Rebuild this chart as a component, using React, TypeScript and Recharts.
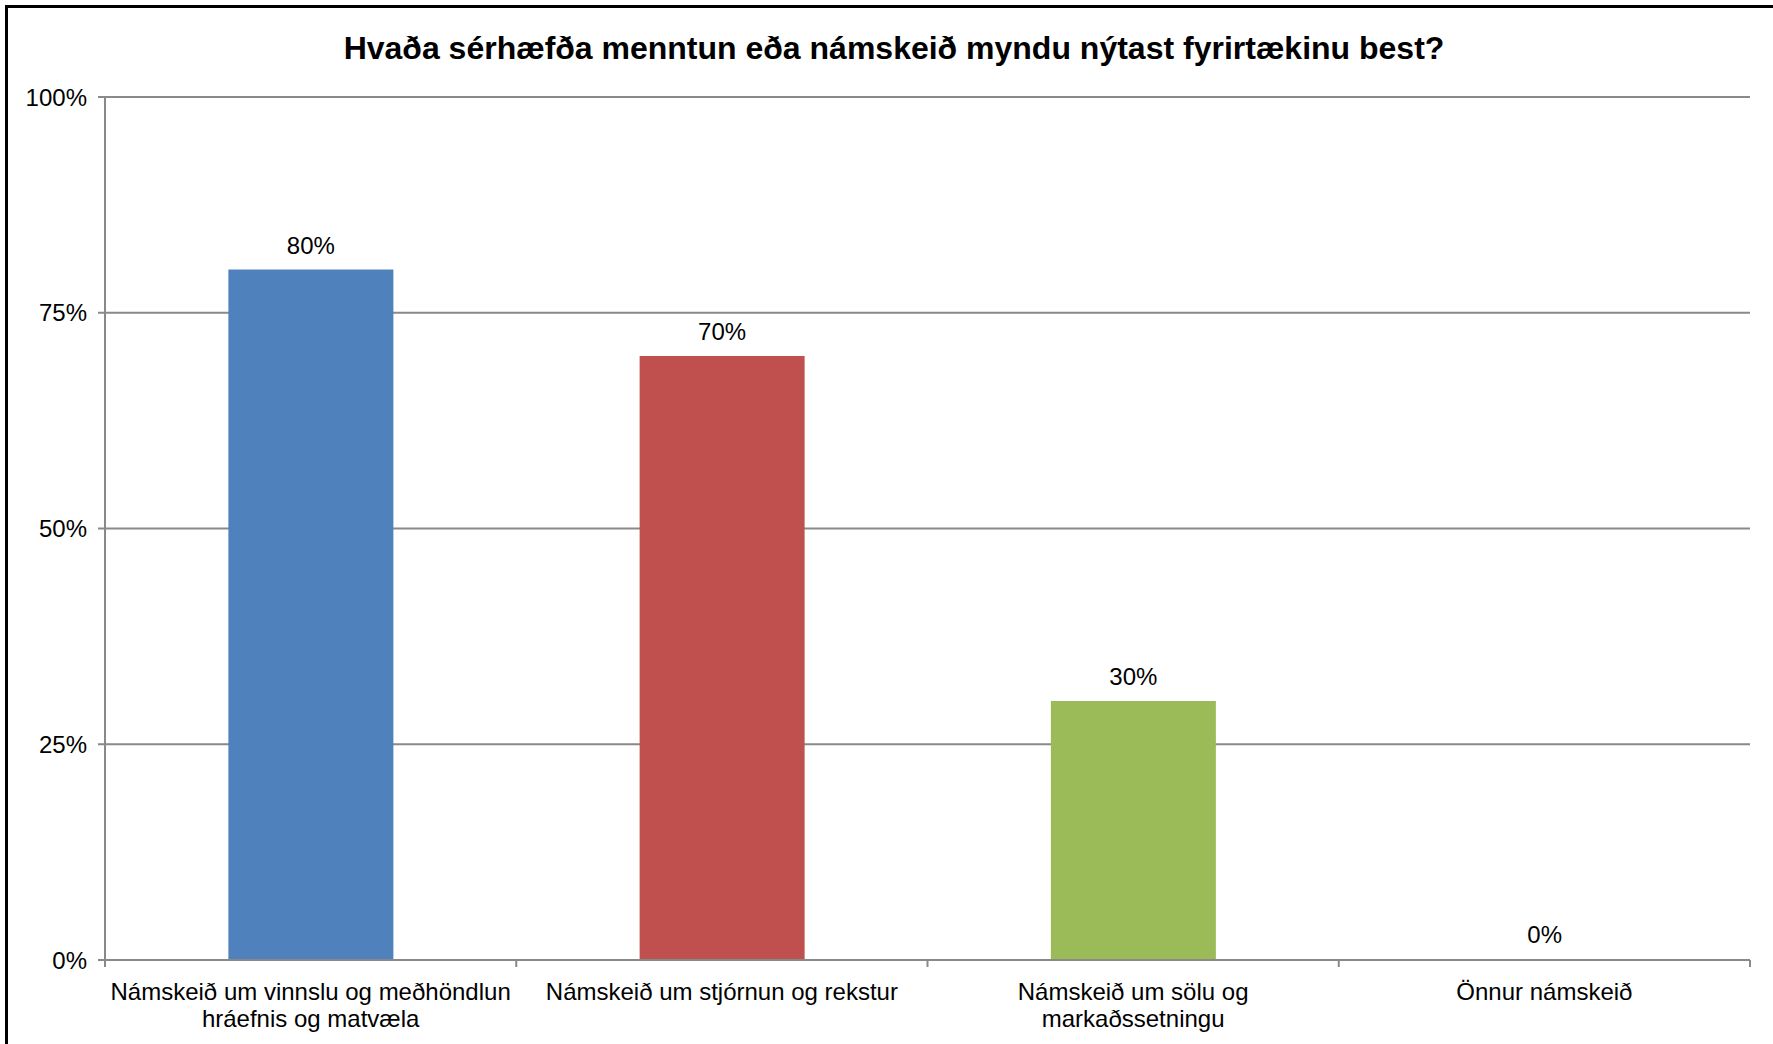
import { BarChart, Bar, XAxis, YAxis, CartesianGrid, Cell, LabelList } from "recharts";

const FONT = "Arial, 'Liberation Sans', sans-serif";
const GRID = "#898989";

const categories = [
  "Námskeið um vinnslu og meðhöndlun\nhráefnis og matvæla",
  "Námskeið um stjórnun og rekstur",
  "Námskeið um sölu og\nmarkaðssetningu",
  "Önnur námskeið",
];
const values = [80, 70, 30, 0];
const barColors = ["#4F81BD", "#C0504D", "#9BBB59", GRID];
const yTicks = [0, 25, 50, 75, 100];

const data = categories.map((name, i) => ({ name, value: values[i] }));

// label in the middle of the band, tick marks on the band edges like Excel
function CategoryTick({ x, y, payload, index, visibleTicksCount }: any) {
  const lines = String(payload.value).split("\n");
  const half = payload.offset || 0;
  const last = index === visibleTicksCount - 1;
  return (
    <g>
      <line x1={x - half} x2={x - half} y1={y} y2={y + 7} stroke={GRID} strokeWidth={2} />
      {last && <line x1={x + half} x2={x + half} y1={y} y2={y + 7} stroke={GRID} strokeWidth={2} />}
      <text x={x} y={y} textAnchor="middle" fill="#000" fontSize={24} fontFamily={FONT}>
        {lines.map((line, i) => (
          <tspan key={i} x={x} dy={i === 0 ? 40 : 27}>
            {line}
          </tspan>
        ))}
      </text>
    </g>
  );
}

export default function App() {
  return (
    <div
      style={{
        position: "absolute",
        left: 0,
        top: 0,
        width: 1773,
        height: 1044,
        overflow: "hidden",
        background: "#fff",
      }}
    >
      <div
        style={{
          position: "absolute",
          left: 5,
          top: 5,
          width: 1820,
          height: 1100,
          border: "3px solid #000",
        }}
      />
      <div
        style={{
          position: "absolute",
          left: 0,
          top: 32,
          width: 1788,
          textAlign: "center",
          fontFamily: FONT,
          fontWeight: "bold",
          fontSize: 32,
          lineHeight: "32px",
          whiteSpace: "nowrap",
          color: "#000",
        }}
      >
        Hvaða sérhæfða menntun eða námskeið myndu nýtast fyrirtækinu best?
      </div>
      <div style={{ position: "absolute", left: 0, top: 0 }}>
        <BarChart
          width={1773}
          height={1044}
          data={data}
          margin={{ top: 97, right: 23, left: 0, bottom: 0 }}
          barCategoryGap="30%"
        >
          <CartesianGrid vertical={false} stroke={GRID} strokeWidth={2} />
          <XAxis
            dataKey="name"
            interval={0}
            height={84}
            tickSize={0}
            tickMargin={0}
            tickLine={false}
            axisLine={{ stroke: GRID, strokeWidth: 2 }}
            tick={<CategoryTick />}
          />
          <YAxis
            width={105}
            domain={[0, 100]}
            ticks={yTicks}
            interval={0}
            tickFormatter={(v) => `${v}%`}
            tickSize={7}
            tickMargin={11}
            axisLine={{ stroke: GRID, strokeWidth: 2 }}
            tickLine={{ stroke: GRID, strokeWidth: 2 }}
            tick={{ fill: "#000", fontSize: 24, fontFamily: FONT }}
          />
          <Bar dataKey="value" minPointSize={1} isAnimationActive={false}>
            {data.map((d, i) => (
              <Cell key={d.name} fill={barColors[i]} />
            ))}
            <LabelList
              dataKey="value"
              position="top"
              offset={16}
              formatter={(v: any) => `${v}%`}
              fill="#000"
              fontSize={24}
              fontFamily={FONT}
            />
          </Bar>
        </BarChart>
      </div>
    </div>
  );
}
